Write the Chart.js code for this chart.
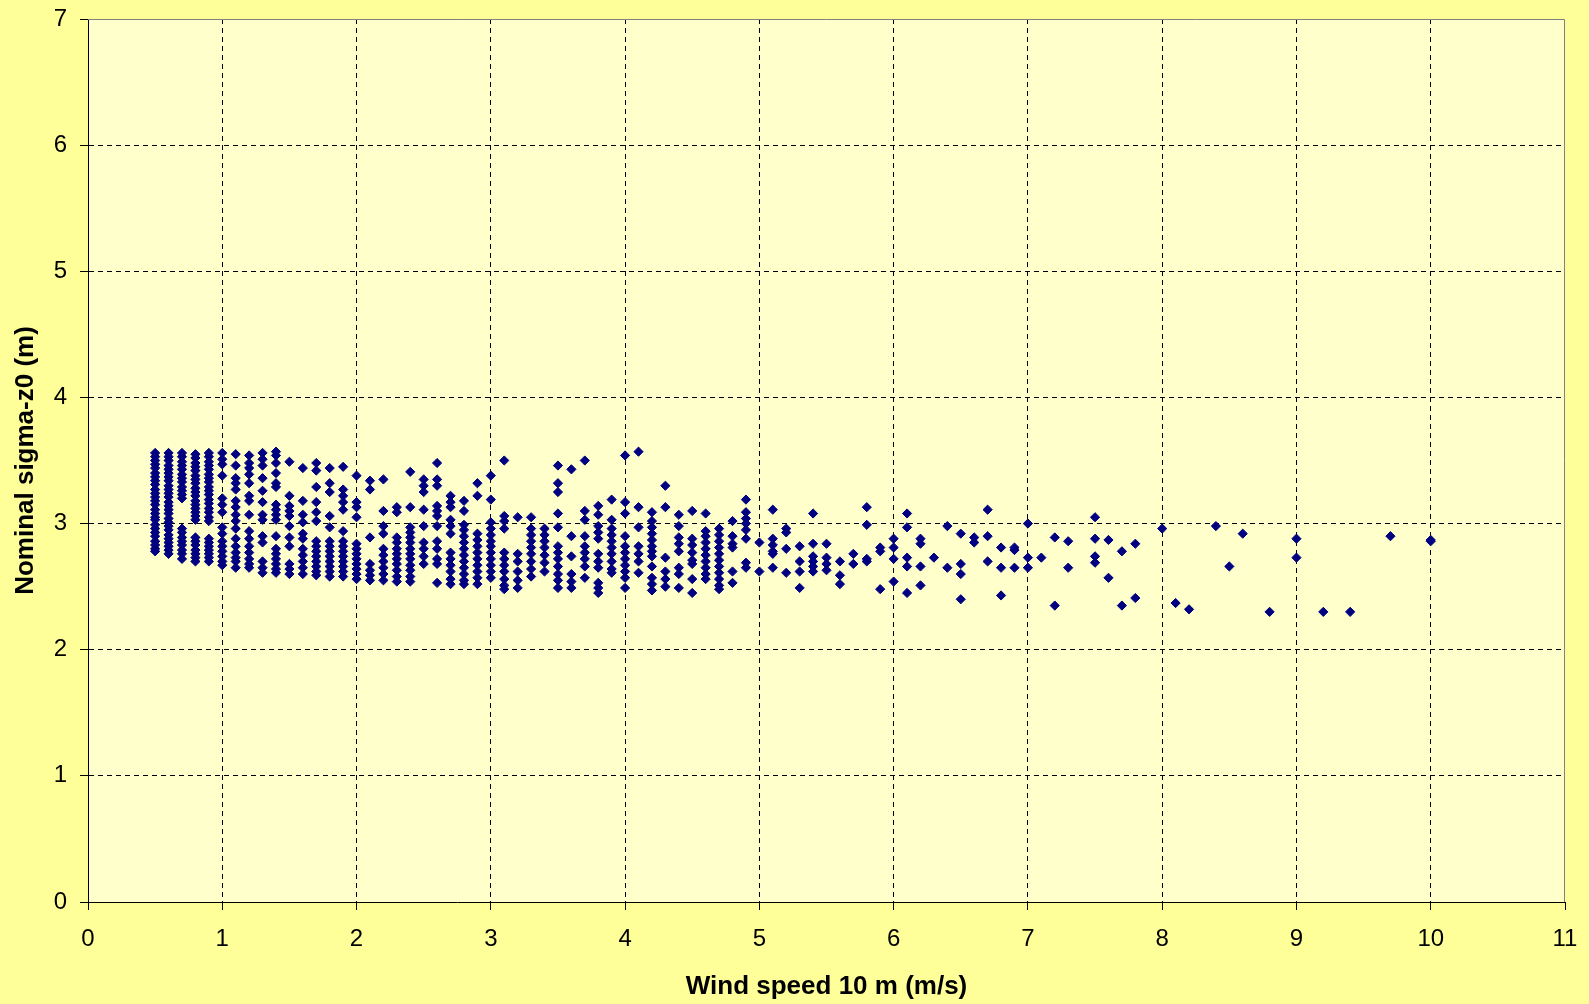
<!DOCTYPE html>
<html>
<head>
<meta charset="utf-8">
<script src="https://cdn.jsdelivr.net/npm/chart.js@4/dist/chart.umd.min.js"></script>
<style>
  html, body { margin: 0; padding: 0; background: #ffff99; }
  #wrap { width: 1589px; height: 1004px; }
</style>
</head>
<body>
<div id="wrap"><canvas id="myChart"></canvas></div>
<script>
// wind speed columns (m/s)
const speeds = [0.5, 0.6, 0.7, 0.8, 0.9, 1.0, 1.1, 1.2, 1.3, 1.4, 1.5, 1.6, 1.7, 1.8, 1.9,
    2.0, 2.1, 2.2, 2.3, 2.4, 2.5, 2.6, 2.7, 2.8, 2.9, 3.0, 3.1, 3.2, 3.3, 3.4, 3.5, 3.6, 3.7, 3.8, 3.9,
    4.0, 4.1, 4.2, 4.3, 4.4, 4.5, 4.6, 4.7, 4.8, 4.9, 5.0, 5.1, 5.2, 5.3, 5.4, 5.5, 5.6, 5.7, 5.8, 5.9,
    6.0, 6.1, 6.2, 6.3, 6.4, 6.5, 6.6, 6.7, 6.8, 6.9, 7.0, 7.1, 7.2, 7.3, 7.5, 7.6, 7.7, 7.8,
    8.0, 8.1, 8.2, 8.4, 8.5, 8.6, 8.8, 9.0, 9.2, 9.4, 9.7, 10.0];

// nominal sigma-z0 values (m) for each wind speed column
const sigmaZ0 = [
    [3.56, 3.53, 3.50, 3.47, 3.44, 3.40, 3.37, 3.34, 3.31, 3.27, 3.24, 3.21, 3.18, 3.15, 3.11, 3.08, 3.05, 3.03, 2.99, 2.96, 2.93, 2.90, 2.86, 2.83, 2.80, 2.78],
    [3.56, 3.53, 3.50, 3.46, 3.43, 3.40, 3.37, 3.34, 3.30, 3.27, 3.24, 3.21, 3.17, 3.14, 3.11, 3.08, 3.04, 3.01, 2.98, 2.95, 2.91, 2.88, 2.85, 2.82, 2.79, 2.76],
    [3.56, 3.53, 3.49, 3.46, 3.43, 3.39, 3.36, 3.33, 3.29, 3.26, 3.23, 3.20, 2.96, 2.93, 2.89, 2.86, 2.83, 2.79, 2.76, 2.72],
    [3.55, 3.52, 3.48, 3.45, 3.42, 3.38, 3.35, 3.32, 3.28, 3.25, 3.22, 3.18, 3.15, 3.12, 3.09, 3.06, 3.03, 2.89, 2.86, 2.83, 2.79, 2.76, 2.73, 2.70],
    [3.56, 3.53, 3.49, 3.46, 3.43, 3.39, 3.36, 3.33, 3.29, 3.26, 3.23, 3.19, 3.16, 3.12, 3.09, 3.05, 3.02, 2.88, 2.85, 2.82, 2.79, 2.76, 2.73, 2.70],
    [3.56, 3.51, 3.47, 3.38, 3.20, 3.15, 3.09, 2.97, 2.92, 2.86, 2.82, 2.78, 2.74, 2.70, 2.67],
    [3.55, 3.46, 3.36, 3.32, 3.27, 3.18, 3.13, 3.07, 3.02, 2.96, 2.88, 2.82, 2.77, 2.73, 2.70, 2.65],
    [3.54, 3.48, 3.44, 3.39, 3.32, 3.22, 3.18, 3.07, 2.94, 2.88, 2.82, 2.77, 2.72, 2.68, 2.65],
    [3.56, 3.51, 3.46, 3.36, 3.26, 3.17, 3.07, 3.03, 2.90, 2.85, 2.70, 2.65, 2.61],
    [3.57, 3.54, 3.48, 3.40, 3.32, 3.29, 3.15, 3.11, 3.07, 3.03, 2.90, 2.80, 2.76, 2.72, 2.68, 2.64, 2.61],
    [3.49, 3.22, 3.14, 3.10, 3.06, 2.98, 2.89, 2.82, 2.68, 2.64, 2.60],
    [3.44, 3.18, 3.07, 3.01, 2.92, 2.88, 2.80, 2.75, 2.70, 2.65, 2.60],
    [3.48, 3.42, 3.29, 3.17, 3.09, 3.02, 2.86, 2.82, 2.78, 2.74, 2.70, 2.66, 2.62, 2.59],
    [3.44, 3.32, 3.25, 3.06, 2.97, 2.86, 2.82, 2.78, 2.74, 2.70, 2.66, 2.62, 2.58],
    [3.45, 3.27, 3.22, 3.17, 3.11, 2.94, 2.86, 2.82, 2.78, 2.74, 2.70, 2.66, 2.62, 2.58],
    [3.38, 3.17, 3.13, 3.05, 2.84, 2.80, 2.76, 2.72, 2.68, 2.64, 2.60, 2.56],
    [3.34, 3.27, 2.89, 2.68, 2.63, 2.59, 2.55],
    [3.35, 3.10, 2.98, 2.92, 2.80, 2.75, 2.70, 2.65, 2.60, 2.55],
    [3.13, 3.09, 2.89, 2.85, 2.80, 2.76, 2.72, 2.68, 2.63, 2.58, 2.54],
    [3.41, 3.13, 2.97, 2.93, 2.89, 2.85, 2.80, 2.76, 2.72, 2.67, 2.63, 2.58, 2.54],
    [3.35, 3.30, 3.25, 3.11, 2.98, 2.85, 2.80, 2.74, 2.68],
    [3.48, 3.35, 3.30, 3.14, 3.10, 3.06, 2.98, 2.86, 2.80, 2.72, 2.68, 2.53],
    [3.22, 3.17, 3.13, 3.03, 2.98, 2.92, 2.77, 2.72, 2.67, 2.62, 2.56, 2.52],
    [3.18, 3.10, 2.99, 2.95, 2.90, 2.85, 2.80, 2.75, 2.70, 2.65, 2.60, 2.55, 2.52],
    [3.32, 3.22, 2.92, 2.87, 2.82, 2.77, 2.72, 2.67, 2.62, 2.57, 2.52],
    [3.38, 3.19, 3.01, 2.96, 2.91, 2.86, 2.82, 2.77, 2.72, 2.67, 2.62, 2.57],
    [3.50, 3.06, 3.02, 2.96, 2.77, 2.72, 2.67, 2.62, 2.56, 2.51, 2.48],
    [3.05, 2.76, 2.70, 2.62, 2.55, 2.49],
    [3.05, 2.96, 2.91, 2.86, 2.81, 2.76, 2.70, 2.64, 2.58],
    [2.96, 2.91, 2.86, 2.81, 2.75, 2.69, 2.62],
    [3.46, 3.32, 3.25, 3.08, 2.97, 2.82, 2.77, 2.72, 2.66, 2.60, 2.55, 2.49],
    [3.43, 2.90, 2.74, 2.60, 2.54, 2.49],
    [3.50, 3.10, 3.03, 2.90, 2.82, 2.77, 2.72, 2.66, 2.57],
    [3.14, 3.07, 2.98, 2.93, 2.88, 2.76, 2.70, 2.65, 2.53, 2.49, 2.45],
    [3.19, 3.03, 2.96, 2.91, 2.86, 2.81, 2.76, 2.70, 2.64, 2.61],
    [3.54, 3.17, 3.08, 2.90, 2.82, 2.77, 2.72, 2.67, 2.62, 2.57, 2.49],
    [3.57, 3.13, 2.97, 2.82, 2.76, 2.70, 2.61],
    [3.09, 3.02, 2.97, 2.92, 2.87, 2.82, 2.78, 2.74, 2.66, 2.57, 2.52, 2.47],
    [3.30, 3.13, 2.73, 2.62, 2.56, 2.50],
    [3.07, 2.98, 2.89, 2.84, 2.78, 2.65, 2.60, 2.49],
    [3.10, 2.88, 2.83, 2.77, 2.71, 2.68, 2.56, 2.45],
    [3.08, 2.94, 2.90, 2.85, 2.80, 2.75, 2.70, 2.65, 2.60, 2.56],
    [2.96, 2.91, 2.86, 2.81, 2.76, 2.71, 2.66, 2.61, 2.56, 2.51, 2.48],
    [3.02, 2.90, 2.84, 2.81, 2.62, 2.53],
    [3.19, 3.09, 3.04, 3.00, 2.95, 2.88, 2.69, 2.65],
    [2.85, 2.62],
    [3.11, 2.88, 2.83, 2.78, 2.76, 2.65],
    [2.96, 2.93, 2.80, 2.61],
    [2.82, 2.70, 2.62, 2.49],
    [3.08, 2.84, 2.74, 2.70, 2.66, 2.62],
    [2.84, 2.73, 2.68, 2.63],
    [2.70, 2.59, 2.52],
    [2.76, 2.68],
    [3.13, 2.99, 2.72, 2.70],
    [2.81, 2.78, 2.48],
    [2.88, 2.81, 2.72, 2.54],
    [3.08, 2.97, 2.73, 2.66, 2.45],
    [2.88, 2.84, 2.66, 2.51],
    [2.73],
    [2.98, 2.65],
    [2.92, 2.68, 2.60, 2.40],
    [2.89, 2.85],
    [3.11, 2.90, 2.70],
    [2.81, 2.65, 2.43],
    [2.81, 2.79, 2.65],
    [3.00, 2.73, 2.65],
    [2.73],
    [2.89, 2.35],
    [2.86, 2.65],
    [3.05, 2.88, 2.74, 2.69],
    [2.87, 2.57],
    [2.78, 2.35],
    [2.84, 2.41],
    [2.96],
    [2.37],
    [2.32],
    [2.98],
    [2.66],
    [2.92],
    [2.30],
    [2.88, 2.73],
    [2.30],
    [2.30],
    [2.90],
    [2.87, 2.86]
];

const xTitle = 'Wind speed 10 m (m/s)';
const yTitle = 'Nominal sigma-z0 (m)';

const points = [];
for (let i = 0; i < speeds.length; i++) {
    for (let j = 0; j < sigmaZ0[i].length; j++) {
        points.push({ x: speeds[i], y: sigmaZ0[i][j] });
    }
}

// фон всей диаграммы и области построения, рамка сверху и справа
const plotBg = {
    id: 'plotBg',
    beforeDraw(chart) {
        const { ctx, chartArea: a } = chart;
        ctx.save();
        ctx.fillStyle = '#ffff99';
        ctx.fillRect(0, 0, chart.width, chart.height);
        ctx.fillStyle = '#ffffcc';
        ctx.fillRect(a.left, a.top, a.right - a.left, a.bottom - a.top);
        ctx.restore();
    },
    afterDraw(chart) {
        const { ctx, chartArea: a } = chart;
        ctx.save();
        ctx.strokeStyle = '#808080';
        ctx.lineWidth = 1;
        ctx.beginPath();
        ctx.moveTo(a.left, a.top + 0.5);
        ctx.lineTo(a.right - 0.5, a.top + 0.5);
        ctx.lineTo(a.right - 0.5, a.bottom);
        ctx.stroke();
        ctx.restore();
    }
};

const tickFont = { family: '"Liberation Sans", Arial, sans-serif', size: 24 };
const titleFont = { family: '"Liberation Sans", Arial, sans-serif', size: 26, weight: 'bold' };

const ctx = document.getElementById('myChart').getContext('2d');
window.chart = new Chart(ctx, {
    type: 'scatter',
    data: {
        datasets: [{
            label: 'sigma-z0',
            data: points,
            pointStyle: 'rectRot',
            pointRadius: 4.6,
            pointBorderWidth: 1,
            backgroundColor: '#000080',
            borderColor: '#000080'
        }]
    },
    options: {
        responsive: true,
        maintainAspectRatio: false,
        animation: false,
        layout: { padding: { top: 19, right: 24, left: 0, bottom: 0 } },
        plugins: {
            legend: { display: false },
            tooltip: { enabled: false }
        },
        scales: {
            x: {
                type: 'linear',
                min: 0,
                max: 11,
                ticks: { stepSize: 1, color: '#000', font: tickFont, padding: 15 },
                grid: {
                    color: (c) => (c.tick && c.tick.value === 11 ? 'rgba(0,0,0,0)' : '#000'),
                    tickColor: '#000',
                    tickLength: 8
                },
                border: { color: '#000', width: 1, dash: [5, 4] },
                title: { display: true, text: xTitle, color: '#000', font: titleFont, padding: { top: 0, bottom: 2 } },
                afterFit: (scale) => {
                    scale.height = 102;
                    scale.paddingLeft = 0;
                    scale.paddingRight = 0;
                }
            },
            y: {
                min: 0,
                max: 7,
                ticks: { stepSize: 1, color: '#000', font: tickFont, padding: 13 },
                grid: {
                    color: (c) => (c.tick && c.tick.value === 7 ? 'rgba(0,0,0,0)' : '#000'),
                    tickColor: '#000',
                    tickLength: 8
                },
                border: { color: '#000', width: 1, dash: [5, 4] },
                title: { display: true, text: yTitle, color: '#000', font: titleFont, padding: { top: 10, bottom: 0 } },
                afterFit: (scale) => {
                    scale.width = 88;
                    scale.paddingTop = 0;
                    scale.paddingBottom = 0;
                }
            }
        }
    },
    plugins: [plotBg]
});
</script>
</body>
</html>
